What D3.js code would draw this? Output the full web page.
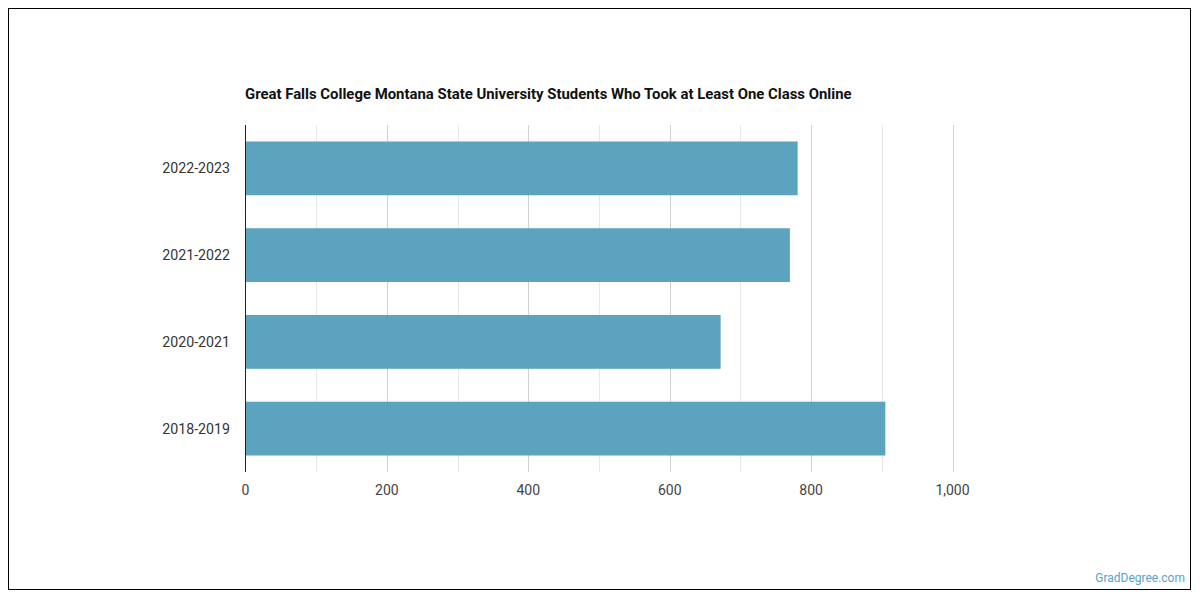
<!DOCTYPE html>
<html><head><meta charset="utf-8">
<script src="https://cdn.jsdelivr.net/npm/d3@7"></script>
<style>
body{margin:0;background:#fff;}
svg{display:block;font-family:Roboto,"Liberation Sans",sans-serif;}
</style></head>
<body>
<svg id="chart" width="1200" height="600"></svg>
<script>
const categories = ["2022-2023","2021-2022","2020-2021","2018-2019"];
const values = [781, 770, 672, 905];
const majorTicks = [0,200,400,600,800,1000];
const minorTicks = [100,300,500,700,900];
const title = "Great Falls College Montana State University Students Who Took at Least One Class Online";

(function(){
const svg = d3.select("#chart");
svg.append("rect").attr("x",8.5).attr("y",8.5).attr("width",1182).attr("height",581)
  .attr("fill","#fff").attr("stroke","#000").attr("stroke-width",1);

const pLeft = 245.5, pRight = 952.5, pTop = 125, pBottom = 472;
const x = d3.scaleLinear().domain([0,1000]).range([pLeft,pRight]);
const y = d3.scaleBand().domain(categories).range([pTop, pBottom]).paddingInner(0.38).paddingOuter(0.19);

svg.append("text").attr("x",245).attr("y",99).attr("font-size",14.9).attr("font-weight","bold")
  .attr("fill","#111").text(title);

svg.append("g").selectAll("line").data(minorTicks).join("line")
  .attr("x1",d=>Math.round(x(d))+0.5).attr("x2",d=>Math.round(x(d))+0.5)
  .attr("y1",pTop).attr("y2",pBottom).attr("stroke","#e8e8e8");
svg.append("g").selectAll("line").data(majorTicks.slice(1)).join("line")
  .attr("x1",d=>Math.round(x(d))+0.5).attr("x2",d=>Math.round(x(d))+0.5)
  .attr("y1",pTop).attr("y2",pBottom).attr("stroke","#d0d0d0");

svg.append("g").selectAll("rect").data(categories).join("rect")
  .attr("x",x(0)).attr("y",d=>y(d))
  .attr("width",(d,i)=>x(values[i])-x(0)).attr("height",y.bandwidth())
  .attr("fill","#5ca3bf");

svg.append("line").attr("x1",pLeft).attr("x2",pLeft).attr("y1",pTop).attr("y2",pBottom)
  .attr("stroke","#222").attr("stroke-width",1);

svg.append("g").selectAll("text").data(categories).join("text")
  .attr("x",230).attr("y",d=>y(d)+y.bandwidth()/2).attr("dy","0.35em")
  .attr("text-anchor","end").attr("font-size",14.2).attr("fill","#333").text(d=>d);

const fmt = d3.format(",");
svg.append("g").selectAll("text").data(majorTicks).join("text")
  .attr("x",d=>x(d)).attr("y",495).attr("text-anchor","middle")
  .attr("font-size",14).attr("fill","#444").text(d=>fmt(d));

svg.append("text").attr("x",1185).attr("y",582).attr("text-anchor","end")
  .attr("font-size",12).attr("fill","#5ca3bf").text("GradDegree.com");
})();
</script>
</body></html>
